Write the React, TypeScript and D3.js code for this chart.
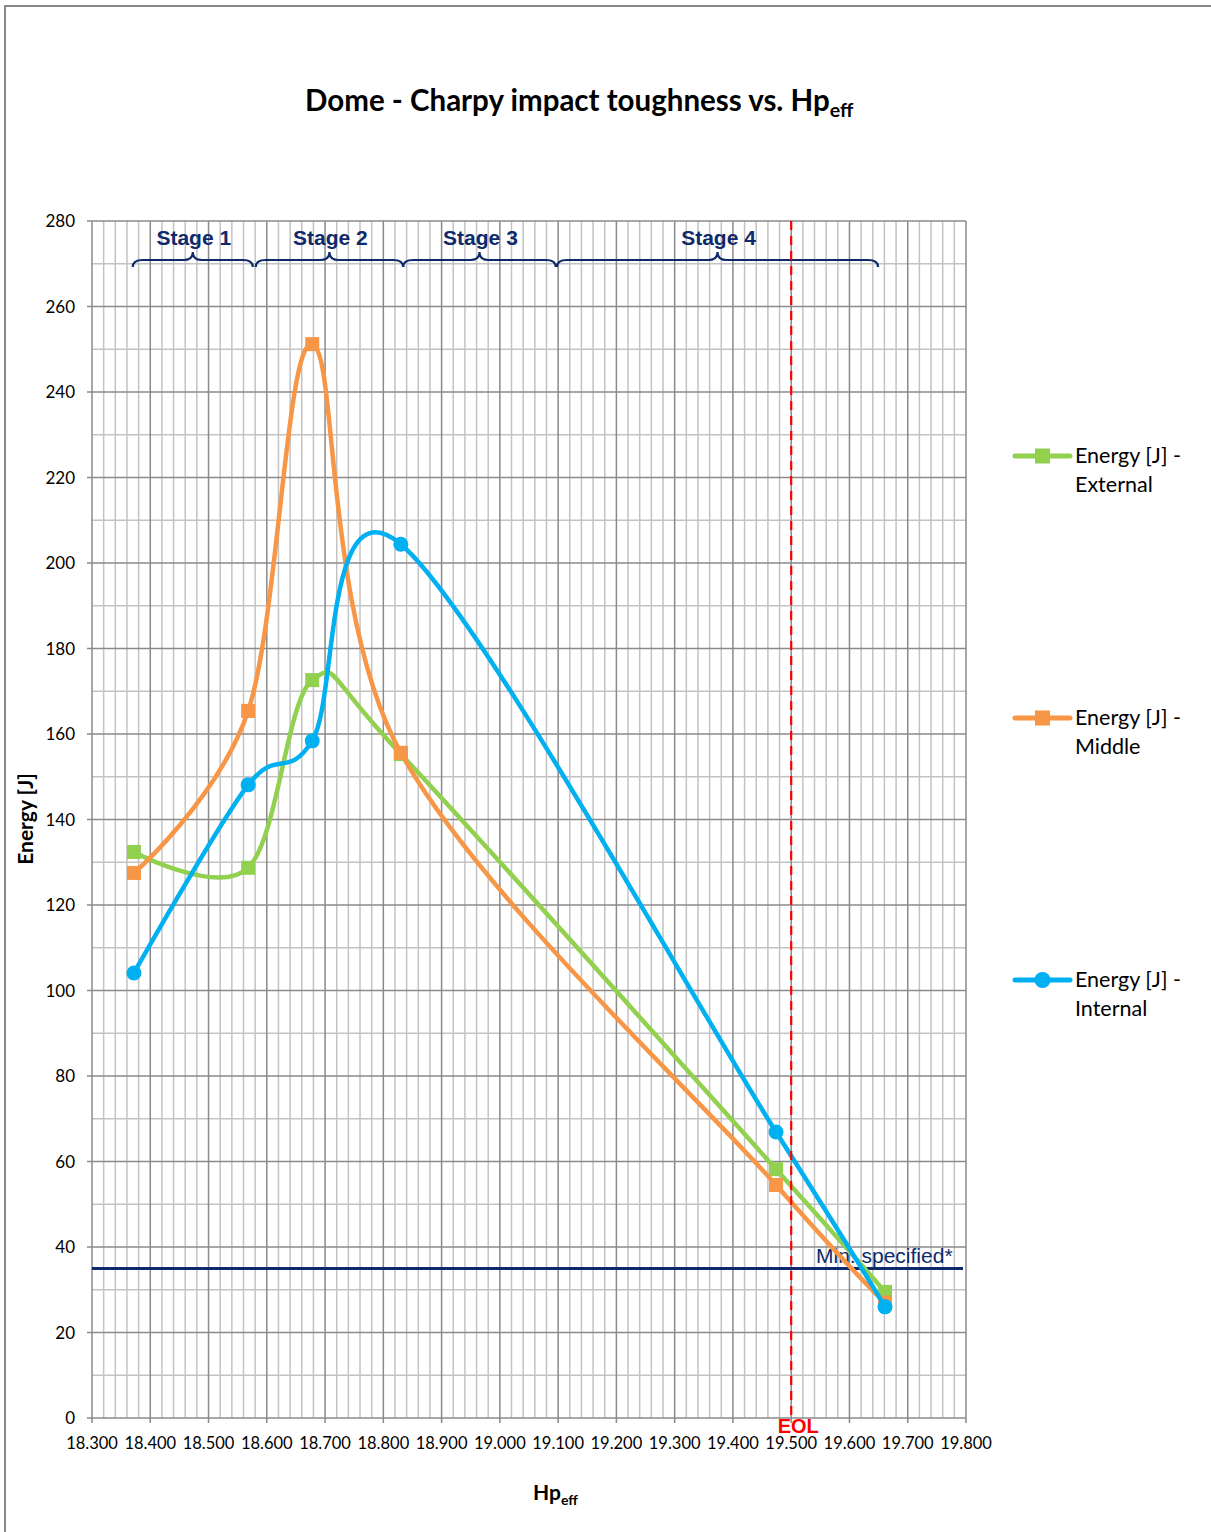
import React from "react";
import * as d3 from "d3";

const xValues = [18.372, 18.568, 18.678, 18.83, 19.474, 19.661];
const externalValues = [132.4, 128.7, 172.6, 155.3, 58.2, 29.5];
const middleValues = [127.5, 165.4, 251.2, 155.6, 54.5, 27.0];
const internalValues = [104.1, 148.1, 158.4, 204.4, 66.9, 26.0];

const seriesNames = ["Energy [J] - External", "Energy [J] - Middle", "Energy [J] - Internal"];
const seriesColors = ["#92d050", "#f79646", "#00b0f0"];
const seriesMarkers = ["square", "square", "circle"];

const yTickValues = [0, 20, 40, 60, 80, 100, 120, 140, 160, 180, 200, 220, 240, 260, 280];
const xTickValues = [18.3, 18.4, 18.5, 18.6, 18.7, 18.8, 18.9, 19.0, 19.1, 19.2, 19.3, 19.4, 19.5, 19.6, 19.7, 19.8];

const stageLabels = ["Stage 1", "Stage 2", "Stage 3", "Stage 4"];
const stageStarts = [18.37, 18.581, 18.834, 19.098];
const stageEnds = [18.576, 18.834, 19.096, 19.649];

const minSpecified = 35;
const eolValue = 19.5;

const W = 1211;
const H = 1532;

export default function App() {
  const x = d3.scaleLinear().domain([18.3, 19.8]).range([92, 966]);
  const y = d3.scaleLinear().domain([0, 280]).range([1418, 221]);

  const minorX = d3.range(0, 76).map((i) => 18.3 + i * 0.02);
  const minorY = d3.range(0, 29).map((i) => i * 10);

  const series = [externalValues, middleValues, internalValues];
  const line = d3
    .line<number>()
    .x((_, i) => x(xValues[i]))
    .y((v) => y(v))
    .curve(d3.curveCardinal.tension(0));

  const navy = "#0e2a6b";
  const tickFont = "Lato, 'Open Sans', sans-serif";
  const arial = "'Liberation Sans', Arial, sans-serif";

  const legendY = [456, 718, 980];

  const marker = (kind: string, cx: number, cy: number, color: string, key: string, s = 14, r = 7.5) =>
    kind === "square" ? (
      <rect key={key} x={cx - s / 2} y={cy - s / 2} width={s} height={s} fill={color} />
    ) : (
      <circle key={key} cx={cx} cy={cy} r={r} fill={color} />
    );

  const bracePath = (x0: number, x1: number) => {
    const xm = (x0 + x1) / 2;
    const top = 260;
    const end = 267;
    const tip = 252;
    return `M${x0},${end} Q${x0},${top} ${x0 + 10},${top} L${xm - 9},${top} Q${xm},${top} ${xm},${tip} Q${xm},${top} ${xm + 9},${top} L${x1 - 10},${top} Q${x1},${top} ${x1},${end}`;
  };

  return (
    <svg
      width={W}
      height={H}
      style={{ position: "absolute", left: 0, top: 0, background: "#fff" }}
      xmlns="http://www.w3.org/2000/svg"
    >
      <rect x={0} y={0} width={W} height={H} fill="#fff" />
      {/* outer border */}
      <path d={`M5,${H} L5,6 L${W},6`} fill="none" stroke="#888" strokeWidth={2} />

      {/* title */}
      <text x={305} y={111} fontFamily={tickFont} fontWeight="bold" fontSize={29.5} fill="#000">
        Dome - Charpy impact toughness vs. Hp
        <tspan fontSize={19.5} dy={6}>eff</tspan>
      </text>

      {/* minor grid */}
      {minorX.map((v, i) =>
        i % 5 === 0 ? null : (
          <line key={"mx" + i} x1={x(v)} x2={x(v)} y1={y(0)} y2={y(280)} stroke="#c3c3c3" strokeWidth={1.5} />
        )
      )}
      {minorY.map((v, i) =>
        i % 2 === 0 ? null : (
          <line key={"my" + i} x1={x(18.3)} x2={x(19.8)} y1={y(v)} y2={y(v)} stroke="#c3c3c3" strokeWidth={1.5} />
        )
      )}
      {/* major grid */}
      {xTickValues.map((v, i) => (
        <line key={"gx" + i} x1={x(v)} x2={x(v)} y1={y(0) + 5} y2={y(280)} stroke="#8a8a8a" strokeWidth={1.5} />
      ))}
      {yTickValues.map((v, i) => (
        <line key={"gy" + i} x1={x(18.3) - 5} x2={x(19.8)} y1={y(v)} y2={y(v)} stroke="#8a8a8a" strokeWidth={1.5} />
      ))}

      {/* tick labels */}
      {yTickValues.map((v, i) => (
        <text key={"yl" + i} x={75} y={y(v) + 6} textAnchor="end" fontFamily={tickFont} fontSize={17} fill="#000">
          {v}
        </text>
      ))}
      {xTickValues.map((v, i) => (
        <text key={"xl" + i} x={x(v)} y={1449} textAnchor="middle" fontFamily={tickFont} fontSize={16.5} fill="#000">
          {d3.format(".3f")(v)}
        </text>
      ))}

      {/* axis titles */}
      <text
        transform={`translate(33,819) rotate(-90)`}
        textAnchor="middle"
        fontFamily={tickFont}
        fontWeight="bold"
        fontSize={21}
        fill="#000"
      >
        Energy [J]
      </text>
      <text x={533} y={1500} fontFamily={tickFont} fontWeight="bold" fontSize={21} fill="#000">
        Hp<tspan fontSize={14} dy={5}>eff</tspan>
      </text>

      {/* stage braces */}
      {stageLabels.map((s, i) => {
        const x0 = x(stageStarts[i]);
        const x1 = x(stageEnds[i]);
        return (
          <g key={"st" + i}>
            <path d={bracePath(x0, x1)} fill="none" stroke={navy} strokeWidth={2.2} />
            <text
              x={(x0 + x1) / 2 + 1}
              y={245}
              textAnchor="middle"
              fontFamily={arial}
              fontWeight="bold"
              fontSize={21}
              fill={navy}
            >
              {s}
            </text>
          </g>
        );
      })}

      {/* min specified */}
      <line x1={x(18.3)} x2={963} y1={y(minSpecified)} y2={y(minSpecified)} stroke={navy} strokeWidth={3} />
      <text x={816} y={1263} fontFamily={arial} fontSize={21} fill={navy}>
        Min. specified*
      </text>

      {/* series */}
      {series.map((vals, si) => (
        <g key={"s" + si}>
          <path d={line(vals) || ""} fill="none" stroke={seriesColors[si]} strokeWidth={4.5} strokeLinejoin="round" />
          {vals.map((v, i) => marker(seriesMarkers[si], x(xValues[i]), y(v), seriesColors[si], `m${si}-${i}`))}
        </g>
      ))}

      {/* EOL */}
      <line
        x1={x(eolValue)}
        x2={x(eolValue)}
        y1={y(280)}
        y2={y(0)}
        stroke="#ff0000"
        strokeWidth={2.2}
        strokeDasharray="9,6"
      />
      <text
        x={x(eolValue) + 7}
        y={1433}
        textAnchor="middle"
        fontFamily={arial}
        fontWeight="bold"
        fontSize={20}
        fill="#ff0000"
      >
        EOL
      </text>

      {/* legend */}
      {seriesNames.map((n, i) => {
        const ly = legendY[i];
        const parts = n.split(" - ");
        return (
          <g key={"lg" + i}>
            <line x1={1015} x2={1070} y1={ly} y2={ly} stroke={seriesColors[i]} strokeWidth={5} strokeLinecap="round" />
            {marker(seriesMarkers[i], 1042.5, ly, seriesColors[i], "lm" + i, 15, 8)}
            <text x={1075} y={ly + 7} fontFamily={tickFont} fontSize={21.5} fill="#000">
              {parts[0] + " -"}
            </text>
            <text x={1075} y={ly + 36} fontFamily={tickFont} fontSize={21.5} fill="#000">
              {parts[1]}
            </text>
          </g>
        );
      })}
    </svg>
  );
}
